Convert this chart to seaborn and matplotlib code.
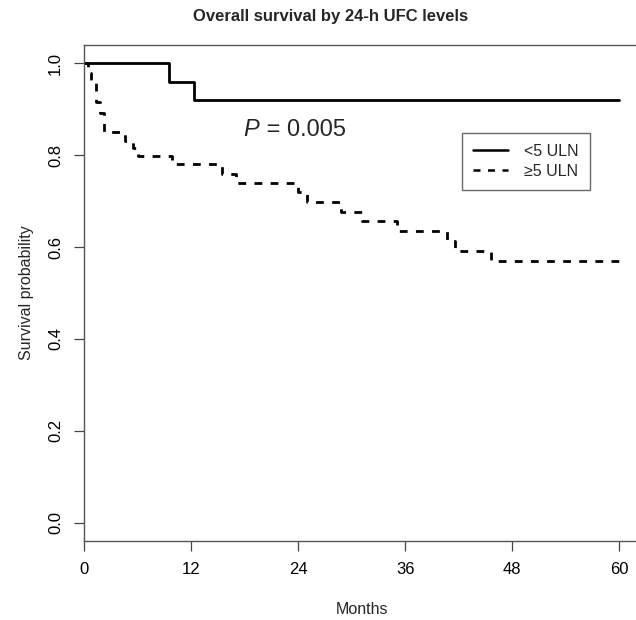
import matplotlib
matplotlib.use("Agg")
import matplotlib.pyplot as plt
import seaborn as sns
import pandas as pd

# ---- data ----
title = "Overall survival by 24-h UFC levels"
group_labels = ["<5 ULN", "\u22655 ULN"]
low_times = [0, 9.5, 12.3, 60]
low_surv = [1.0, 0.96, 0.92, 0.92]
high_times = [0, 0.4, 0.8, 1.3, 1.8, 2.2, 4.6, 5.5, 6.0, 9.9, 15.5, 17.0,
              24.0, 25.0, 28.8, 31.2, 35.1, 40.7, 41.6, 45.6, 60]
high_surv = [1.0, 0.978, 0.957, 0.915, 0.893, 0.851, 0.830, 0.815, 0.798,
             0.780, 0.760, 0.740, 0.720, 0.698, 0.677, 0.657, 0.635, 0.613,
             0.591, 0.570, 0.570]
x_ticks = [0, 12, 24, 36, 48, 60]
y_ticks = [0.0, 0.2, 0.4, 0.6, 0.8, 1.0]
p_value = "0.005"

sns.set_theme(style="white")
plt.rcParams['font.family'] = ['Liberation Sans', 'DejaVu Sans']

df = pd.concat([
    pd.DataFrame({"time": low_times, "surv": low_surv, "group": group_labels[0]}),
    pd.DataFrame({"time": high_times, "surv": high_surv, "group": group_labels[1]}),
], ignore_index=True)

fig = plt.figure(figsize=(6.36, 6.20), dpi=100)
ax = fig.add_axes([84/636, 79/620, 556.6/636, 496/620])

sns.lineplot(data=df, x="time", y="surv", hue="group", style="group",
             hue_order=group_labels, style_order=group_labels,
             palette={group_labels[0]: "black", group_labels[1]: "black"},
             dashes={group_labels[0]: "", group_labels[1]: (2.8, 3.0)},
             drawstyle="steps-post", estimator=None, sort=False,
             linewidth=2.0, ax=ax, legend=True)

ax.set_xlim(0, 62.4)
ax.set_ylim(-0.04, 1.04)
ax.set_xticks(x_ticks)
ax.set_xticklabels([str(t) for t in x_ticks])
ax.set_yticks(y_ticks)
ax.set_yticklabels([f"{t:.1f}" for t in y_ticks], rotation=90, va="center")
ax.tick_params(axis="both", direction="out", length=7, width=0.9,
               color="#444444", labelsize=12, labelcolor="black", pad=8,
               bottom=True, left=True)
for s in ax.spines.values():
    s.set_color("#555555")
    s.set_linewidth(1.0)

ax.set_xlabel("Months", fontsize=11.5, labelpad=18)
ax.set_ylabel("Survival probability", fontsize=11.5, labelpad=10)
fig.text((192 + 470) / 2 / 636, 1 - 16 / 620, title, ha="center", va="center",
         fontsize=12, fontweight="bold")

ax.text(18.7, 0.855, "P", fontsize=17, fontstyle="italic", ha="center", va="center")
ax.text(19.7, 0.855, " = " + p_value, fontsize=17, ha="left", va="center")

handles, labels = ax.get_legend_handles_labels()
leg = ax.legend(handles, labels, loc="upper right", bbox_to_anchor=(0.909, 0.823),
                borderaxespad=0, frameon=True, fancybox=False, fontsize=11.5,
                handlelength=2.2, borderpad=0.7, labelspacing=0.3,
                handletextpad=1.0)
leg.get_frame().set_edgecolor("#444444")
leg.get_frame().set_linewidth(1.0)
for line in leg.get_lines():
    line.set_linewidth(1.8)

fig.savefig("out.png", dpi=100)
